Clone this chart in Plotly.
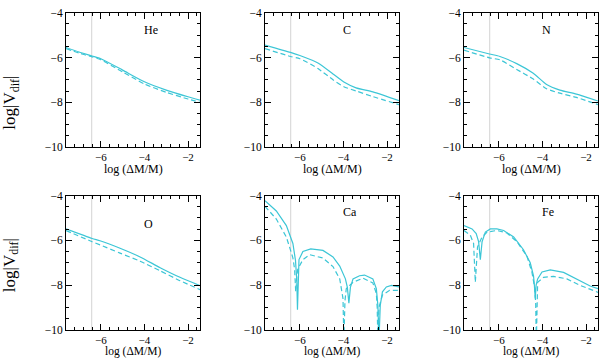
import plotly.graph_objects as go

W, H = 600, 364

# ---------------- data ----------------
ELEMENTS = ["He", "C", "N", "O", "Ca", "Fe"]
LABEL_X = -4.1
LABEL_Y = [-4.75, -4.75, -4.75, -5.25, -4.75, -4.75]
GRAY_X = -6.42

HE_X = [-7.6, -7.0, -6.4, -6.0, -5.0, -4.0, -3.0, -2.0, -1.45]
HE_SOLID = [-5.55, -5.75, -5.93, -6.05, -6.56, -7.08, -7.45, -7.75, -7.9]
HE_DASHED = [-5.6, -5.8, -5.97, -6.1, -6.64, -7.18, -7.55, -7.85, -8.0]

C_X = [-7.6, -6.43, -6.0, -5.17, -4.48, -3.98, -3.42, -2.65, -1.45]
C_SOLID = [-5.44, -5.77, -5.91, -6.24, -6.73, -7.09, -7.35, -7.53, -7.92]
C_DASHED = [-5.6, -5.95, -6.05, -6.49, -6.99, -7.3, -7.49, -7.74, -8.1]

N_X = [-7.6, -6.43, -5.95, -5.18, -4.42, -3.81, -3.2, -2.44, -1.45]
N_SOLID = [-5.55, -5.84, -5.95, -6.27, -6.7, -7.2, -7.45, -7.63, -7.94]
N_DASHED = [-5.67, -6.01, -6.1, -6.53, -6.96, -7.39, -7.59, -7.78, -8.1]

O_X = [-7.6, -6.4, -6.04, -5.12, -4.2, -3.28, -2.37, -1.45]
O_SOLID = [-5.49, -5.92, -6.02, -6.35, -6.74, -7.22, -7.65, -8.02]
O_DASHED = [-5.56, -6.06, -6.2, -6.57, -6.93, -7.36, -7.8, -8.2]

CA_X_SOLID = [-7.6, -7.08, -6.62, -6.32, -6.2, -6.14, -6.11, -6.08, -6.04, -5.86, -5.5,
              -4.94, -4.48, -4.17, -3.91, -3.82, -3.75, -3.68, -3.56, -3.26, -3.03,
              -2.65, -2.49, -2.42, -2.37, -2.31, -2.21, -2.03, -1.8, -1.45]
CA_SOLID = [-4.23, -4.69, -5.34, -6.14, -6.9, -7.8, -9.1, -7.6, -6.86, -6.5, -6.38,
            -6.45, -6.74, -7.15, -7.72, -8.1, -8.8, -8.1, -7.72, -7.58, -7.55,
            -7.72, -8.16, -8.9, -10.5, -8.9, -8.3, -8.08, -8.01, -8.08]
CA_X_DASHED = [-7.6, -7.08, -6.62, -6.32, -6.24, -6.19, -6.14, -6.1, -5.86, -5.55,
               -4.94, -4.48, -4.17, -4.02, -3.98, -3.93, -3.87, -3.56, -3.1,
               -2.65, -2.49, -2.45, -2.42, -2.37, -2.21, -1.88, -1.45]
CA_DASHED = [-4.48, -5.05, -5.85, -6.78, -7.3, -8.3, -7.6, -7.3, -6.86, -6.64,
             -6.79, -7.17, -7.72, -8.6, -10.5, -8.7, -8.16, -7.87, -7.69,
             -7.9, -8.37, -9.0, -10.5, -9.0, -8.44, -8.23, -8.23]

FE_X_SOLID = [-7.6, -7.23, -7.04, -6.93, -6.85, -6.77, -6.62, -6.39, -6.09, -5.78,
              -5.32, -4.87, -4.56, -4.41, -4.37, -4.33, -4.29, -4.22, -4.02, -3.64,
              -3.03, -2.42, -1.81, -1.45]
FE_SOLID = [-5.34, -5.49, -5.7, -6.06, -6.86, -6.06, -5.63, -5.49, -5.49, -5.56,
            -5.85, -6.42, -7.0, -7.58, -8.0, -8.59, -8.0, -7.72, -7.41, -7.32,
            -7.43, -7.72, -8.04, -8.16]
FE_X_DASHED = [-7.6, -7.31, -7.16, -7.08, -6.98, -6.77, -6.54, -6.09, -5.63, -5.17,
               -4.71, -4.48, -4.36, -4.31, -4.28, -4.25, -4.22, -3.95, -3.49, -2.88,
               -2.27, -1.45]
FE_DASHED = [-5.56, -5.77, -6.14, -7.87, -6.3, -5.85, -5.63, -5.56, -5.67, -6.06,
             -6.71, -7.43, -8.1, -8.8, -10.5, -8.6, -7.87, -7.65, -7.61, -7.72,
             -8.01, -8.32]

X_RANGE = [-7.6, -1.45]
Y_RANGE = [-10, -4]
X_TICKS = [-6, -4, -2]
Y_TICKS = [-10, -8, -6, -4]

PANELS = [
    (HE_X, HE_SOLID, HE_X, HE_DASHED, "spline"),
    (C_X, C_SOLID, C_X, C_DASHED, "spline"),
    (N_X, N_SOLID, N_X, N_DASHED, "spline"),
    (O_X, O_SOLID, O_X, O_DASHED, "spline"),
    (CA_X_SOLID, CA_SOLID, CA_X_DASHED, CA_DASHED, "linear"),
    (FE_X_SOLID, FE_SOLID, FE_X_DASHED, FE_DASHED, "linear"),
]

# ---------------- layout geometry ----------------
COL_LEFT = [66, 265, 464]
PANEL_W = 134
ROW_TOP = [7, 196]
PANEL_H = 139
XTITLE_GAP = [23, 22.5]
XTITLE_SIZE = [12, 11.5]
COLOR = "#3cc6d6"
SERIF = "Liberation Serif, Times New Roman, serif"

fig = go.Figure()
layout = dict(
    width=W, height=H, margin=dict(l=0, r=0, t=0, b=0),
    paper_bgcolor="white", plot_bgcolor="white", showlegend=False,
    font=dict(family=SERIF, color="black"),
)
shapes, annotations = [], []

for i, (xs, ys, xd, yd, shp) in enumerate(PANELS):
    r, c = divmod(i, 3)
    n = "" if i == 0 else str(i + 1)
    x0 = COL_LEFT[c] / W
    x1 = (COL_LEFT[c] + PANEL_W) / W
    y1 = 1 - ROW_TOP[r] / H
    y0 = 1 - (ROW_TOP[r] + PANEL_H) / H
    common = dict(showline=True, linecolor="black", linewidth=1, mirror="allticks",
                  ticks="inside", ticklen=6, tickwidth=1, tickcolor="black",
                  showgrid=False, zeroline=False)
    layout["xaxis" + n] = dict(domain=[x0, x1], range=X_RANGE, anchor="y" + n,
                               tickvals=X_TICKS,
                               tickfont=dict(family=SERIF, size=11, color="black"),
                               minor=dict(dtick=0.4, tick0=-6, ticks="inside", ticklen=3,
                                          tickcolor="black", showgrid=False),
                               **common)
    layout["yaxis" + n] = dict(domain=[y0, y1], range=Y_RANGE, anchor="x" + n,
                               tickvals=Y_TICKS,
                               tickfont=dict(family=SERIF, size=11.5, color="black"),
                               minor=dict(dtick=0.5, tick0=-10, ticks="inside", ticklen=3,
                                          tickcolor="black", showgrid=False),
                               **common)
    shapes.append(dict(type="line", xref="x" + n, yref="y" + n + " domain",
                       x0=GRAY_X, x1=GRAY_X, y0=0, y1=1, layer="below",
                       line=dict(color="#d4d4d4", width=1)))
    line_kw = dict(shape=shp, smoothing=0.6) if shp == "spline" else dict(shape=shp)
    fig.add_trace(go.Scatter(x=xs, y=ys, mode="lines", xaxis="x" + n, yaxis="y" + n,
                             hoverinfo="skip",
                             line=dict(color=COLOR, width=1.2, **line_kw)))
    fig.add_trace(go.Scatter(x=xd, y=yd, mode="lines", xaxis="x" + n, yaxis="y" + n,
                             hoverinfo="skip",
                             line=dict(color=COLOR, width=1.2, dash="5px,3px", **line_kw)))
    annotations.append(dict(text=ELEMENTS[i], x=LABEL_X, y=LABEL_Y[i],
                            xref="x" + n, yref="y" + n, xanchor="left", yanchor="middle",
                            showarrow=False, font=dict(family=SERIF, size=12, color="black")))
    # x-axis title
    annotations.append(dict(text="log (ΔM/M)", x=(COL_LEFT[c] + PANEL_W / 2) / W,
                            y=1 - (ROW_TOP[r] + PANEL_H + XTITLE_GAP[r]) / H,
                            xref="paper", yref="paper", xanchor="center", yanchor="middle",
                            showarrow=False,
                            font=dict(family=SERIF, size=XTITLE_SIZE[r], color="black")))

for r, yc in enumerate([100, 268]):
    annotations.append(dict(text="log|V<sub>dif</sub>|", x=11 / W, y=1 - yc / H,
                            xref="paper", yref="paper", xanchor="center", yanchor="middle",
                            textangle=-90, showarrow=False,
                            font=dict(family=SERIF, size=17, color="black")))

layout["shapes"] = shapes
layout["annotations"] = annotations
fig.update_layout(**layout)
fig.write_html("out.html", config={"displayModeBar": False, "staticPlot": True},
               post_script="document.body.style.margin='0';document.body.style.overflow='hidden';")
